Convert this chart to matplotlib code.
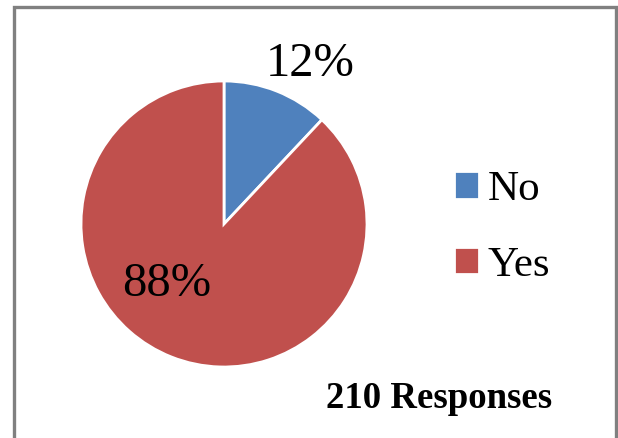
import matplotlib
matplotlib.use("Agg")
import matplotlib.pyplot as plt
from matplotlib.patches import Rectangle

# Survey answers
categories = ["No", "Yes"]
shares = [12, 88]
colors = ["#4F81BD", "#C0504D"]
total_responses = 210

plt.rcParams['font.family'] = ['Liberation Serif', 'DejaVu Serif']

fig = plt.figure(figsize=(6.18, 4.38), dpi=100)
W, H = 618, 438

# pie axes: centre ~(224, 224) px, radius ~143 px
cx, cy, r = 224, 224, 143
ax = fig.add_axes([(cx - r) / W, (H - cy - r) / H, 2 * r / W, 2 * r / H])
wedges, _ = ax.pie(shares, colors=colors, startangle=90, counterclock=False,
                   wedgeprops=dict(edgecolor="white", linewidth=2))
ax.set_xlim(-1, 1)
ax.set_ylim(-1, 1)
ax.set_aspect("equal")

# percentage labels (positions in pie radius units)
label_pos = [(0.60, 1.12), (-0.40, -0.42)]
for (x, y), v in zip(label_pos, shares):
    ax.text(x, y, f"{v}%", ha="center", va="center", fontsize=35, color="black")

leg = fig.legend(wedges, categories, loc="upper left",
                 bbox_to_anchor=(432 / W, 1 - 149 / H), frameon=False,
                 fontsize=31, handlelength=0.6, handleheight=0.6,
                 handletextpad=0.2, labelspacing=0.86, borderpad=0)

fig.text(439 / W, 1 - 399 / H, f"{total_responses} Responses", ha="center",
         va="center", fontsize=26.5, fontweight="bold")

# grey outer frame (bottom edge falls outside the image)
fig.add_artist(Rectangle((13.5 / W, -0.05), 602 / W, 1.05 - 7.5 / H,
                         transform=fig.transFigure, fill=False,
                         edgecolor="#808080", linewidth=2.4))

fig.savefig("out.png", dpi=100, facecolor="white")
